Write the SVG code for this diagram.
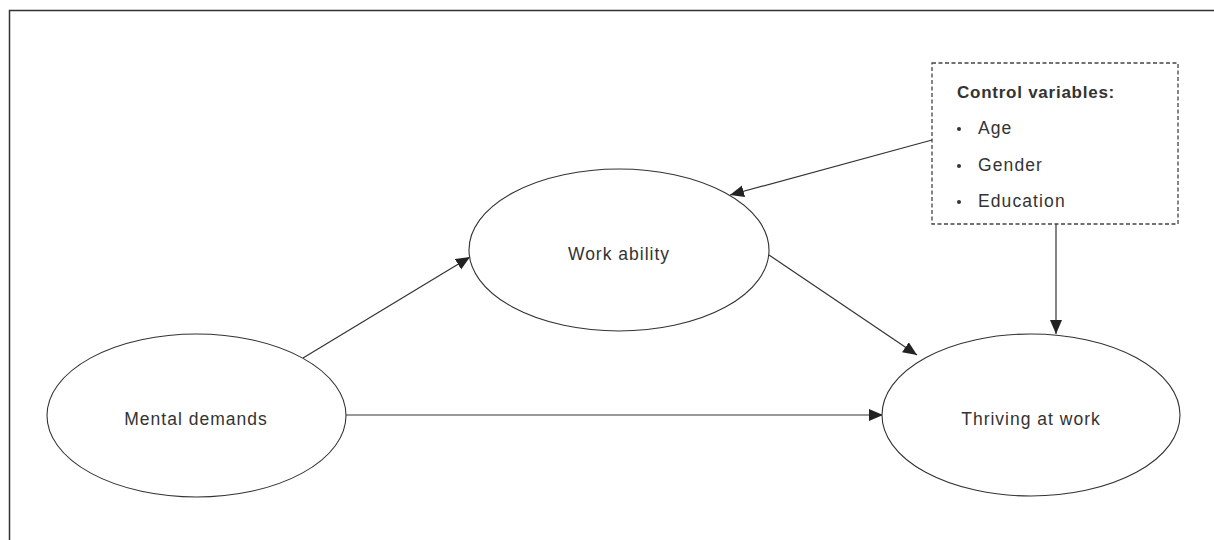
<svg xmlns="http://www.w3.org/2000/svg" width="1214" height="540" viewBox="0 0 1214 540">
  <style>
    .frame { stroke: #333; stroke-width: 1.5; fill: none; }
    .node { fill: #fff; stroke: #333; stroke-width: 1.1; }
    .label { font-family: "Liberation Sans", Arial, sans-serif; font-size: 17.5px; letter-spacing: 1px; fill: #333; text-anchor: middle; }
    .box { fill: #fff; stroke: #444; stroke-width: 1.3; stroke-dasharray: 4 2.5; }
    .head { font-family: "Liberation Sans", Arial, sans-serif; font-size: 17px; font-weight: bold; letter-spacing: 0.75px; fill: #333; }
    .item { font-family: "Liberation Sans", Arial, sans-serif; font-size: 17.5px; letter-spacing: 1.1px; fill: #333; }
    .bullet { fill: #333; }
    .edge { stroke: #333; stroke-width: 1.2; fill: none; marker-end: url(#arrow); }
  </style>
  <defs>
    <marker id="arrow" markerUnits="userSpaceOnUse" markerWidth="16" markerHeight="13" refX="14" refY="6" orient="auto">
      <path d="M0,0 L14,6 L0,12 z" fill="#222"/>
    </marker>
  </defs>
  <rect width="1214" height="540" fill="#fff"/>
  <path class="frame" d="M9.5,540 L9.5,10.5 L1214,10.5"/>
  <g id="connectors">
    <line class="edge" x1="303" y1="358" x2="470" y2="257"/>
    <line class="edge" x1="346" y1="415" x2="883" y2="415"/>
    <line class="edge" x1="769" y1="255" x2="917" y2="355"/>
    <line class="edge" x1="932" y1="140" x2="730" y2="195"/>
    <line class="edge" x1="1056" y1="224" x2="1056" y2="334"/>
  </g>
  <g id="work-ability">
    <ellipse class="node" cx="619" cy="250" rx="150" ry="81"/>
    <text class="label" x="619" y="260">Work ability</text>
  </g>
  <g id="mental-demands">
    <ellipse class="node" cx="196.5" cy="415.5" rx="149.5" ry="81.5"/>
    <text class="label" x="196" y="425">Mental demands</text>
  </g>
  <g id="thriving-at-work">
    <ellipse class="node" cx="1031" cy="415" rx="149" ry="81"/>
    <text class="label" x="1031" y="425">Thriving at work</text>
  </g>
  <g id="control-variables">
    <rect class="box" x="932" y="63" width="246" height="161"/>
    <text class="head" x="957" y="98">Control variables:</text>
    <circle class="bullet" cx="959" cy="129" r="2"/>
    <text class="item" x="978" y="134">Age</text>
    <circle class="bullet" cx="959" cy="166" r="2"/>
    <text class="item" x="978" y="171">Gender</text>
    <circle class="bullet" cx="959" cy="202" r="2"/>
    <text class="item" x="978" y="207">Education</text>
  </g>
</svg>
